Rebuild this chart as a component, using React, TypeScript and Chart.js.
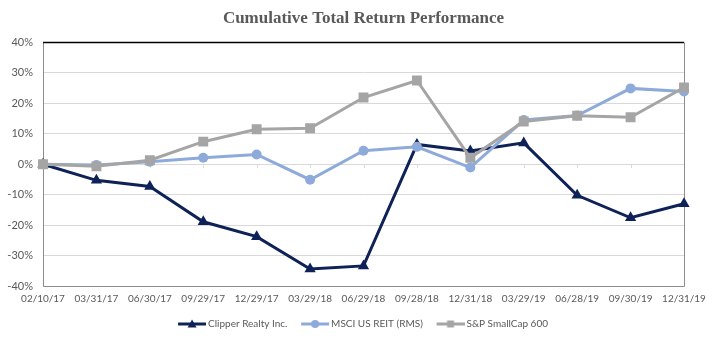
import React, { useEffect, useRef } from 'react';
import { Chart, registerables } from 'chart.js';

Chart.register(...registerables);

const categories = ['02/10/17', '03/31/17', '06/30/17', '09/29/17', '12/29/17', '03/29/18', '06/29/18', '09/28/18', '12/31/18', '03/29/19', '06/28/19', '09/30/19', '12/31/19'];
const clipperValues = [0, -5.3, -7.3, -18.9, -23.8, -34.4, -33.4, 6.5, 4.3, 7.0, -10.2, -17.6, -13.0];
const msciValues = [0, -0.3, 0.8, 2.1, 3.2, -5.1, 4.4, 5.7, -1.1, 14.5, 16.0, 24.9, 23.9];
const spValues = [0, -0.7, 1.3, 7.4, 11.5, 11.8, 21.9, 27.5, 2.1, 14.0, 15.9, 15.4, 25.2];
const seriesNames = ['Clipper Realty Inc.', 'MSCI US REIT (RMS)', 'S&P SmallCap 600'];
const yMin = -40;
const yMax = 40;
const yStep = 10;

const NAVY = '#0e2257';
const BLUE = '#8eaadb';
const GRAY = '#a5a5a5';
const TEXT = '#595959';

function makeIcon(color: string, kind: string): HTMLCanvasElement {
  const c = document.createElement('canvas');
  c.width = 30;
  c.height = 12;
  const ctx = c.getContext('2d')!;
  ctx.strokeStyle = color;
  ctx.fillStyle = color;
  ctx.lineWidth = 3;
  ctx.beginPath();
  ctx.moveTo(2, 6);
  ctx.lineTo(30, 6);
  ctx.stroke();
  ctx.beginPath();
  if (kind === 'triangle') {
    ctx.moveTo(16, 1.5);
    ctx.lineTo(20.5, 9.5);
    ctx.lineTo(11.5, 9.5);
    ctx.closePath();
  } else if (kind === 'circle') {
    ctx.arc(16, 6, 4, 0, Math.PI * 2);
  } else {
    ctx.rect(12.5, 2.5, 7, 7);
  }
  ctx.fill();
  return c;
}

const frame = {
  id: 'frame',
  beforeDatasetsDraw(chart: any) {
    const { ctx, chartArea: a, scales } = chart;
    const y0 = scales.y.getPixelForValue(0);
    ctx.save();
    ctx.strokeStyle = '#d9d9d9';
    ctx.lineWidth = 1;
    for (let i = 0; i < categories.length; i++) {
      const x = Math.round(scales.x.getPixelForValue(i)) + 0.5;
      ctx.beginPath();
      ctx.moveTo(x, y0);
      ctx.lineTo(x, y0 + 4);
      ctx.stroke();
    }
    ctx.strokeStyle = '#8c8c8c';
    ctx.lineWidth = 1;
    ctx.beginPath();
    ctx.moveTo(Math.round(a.left) + 0.5, a.top);
    ctx.lineTo(Math.round(a.left) + 0.5, Math.round(a.bottom) + 0.5);
    ctx.lineTo(Math.round(a.right) + 0.5, Math.round(a.bottom) + 0.5);
    ctx.lineTo(Math.round(a.right) + 0.5, a.top);
    ctx.stroke();
    ctx.strokeStyle = '#000000';
    ctx.lineWidth = 1.5;
    ctx.beginPath();
    ctx.moveTo(a.left, Math.round(a.top) + 0.5);
    ctx.lineTo(a.right, Math.round(a.top) + 0.5);
    ctx.stroke();
    ctx.restore();
  },
};

export default function App() {
  const ref = useRef<HTMLCanvasElement>(null);
  useEffect(() => {
    document.body.style.margin = '0';
    const icons = [makeIcon(NAVY, 'triangle'), makeIcon(BLUE, 'circle'), makeIcon(GRAY, 'rect')];
    const gap = '   ';
    const chart = new Chart(ref.current!, {
      type: 'line',
      data: {
        labels: categories,
        datasets: [
          {
            label: seriesNames[0],
            data: clipperValues,
            borderColor: NAVY,
            backgroundColor: NAVY,
            borderWidth: 3,
            pointStyle: 'triangle',
            pointRadius: 6.5,
            pointBorderWidth: 0,
            tension: 0,
            order: 3,
          },
          {
            label: seriesNames[1],
            data: msciValues,
            borderColor: BLUE,
            backgroundColor: BLUE,
            borderWidth: 3,
            pointStyle: 'circle',
            pointRadius: 5,
            pointBorderWidth: 0,
            tension: 0,
            order: 2,
          },
          {
            label: seriesNames[2],
            data: spValues,
            borderColor: GRAY,
            backgroundColor: GRAY,
            borderWidth: 3,
            pointStyle: 'rect',
            pointRadius: 7,
            pointBorderWidth: 0,
            tension: 0,
            order: 1,
          },
        ],
      },
      options: {
        animation: false,
        responsive: false,
        layout: { padding: { left: 0, right: 33, top: 0, bottom: 4 } },
        scales: {
          x: {
            type: 'category',
            offset: false,
            grid: { display: false, drawTicks: false },
            border: { display: false },
            ticks: {
              color: TEXT,
              font: { family: 'Lato', size: 10 },
              padding: 7,
              maxRotation: 0,
              autoSkip: false,
            },
          },
          y: {
            min: yMin,
            max: yMax,
            afterFit: (s: any) => {
              s.width = 43;
            },
            grid: { color: '#d9d9d9', drawTicks: false, lineWidth: 1 },
            border: { display: false },
            ticks: {
              stepSize: yStep,
              color: TEXT,
              font: { family: 'Lato', size: 11 },
              padding: 10,
              callback: (v: any) => v + '%',
            },
          },
        },
        plugins: {
          title: {
            display: true,
            text: 'Cumulative Total Return Performance',
            color: TEXT,
            fullSize: false,
            font: { family: 'Liberation Serif', size: 17, weight: 'bold' },
            padding: { top: 8, bottom: 14 },
          },
          legend: {
            position: 'bottom',
            fullSize: false,
            labels: {
              usePointStyle: true,
              pointStyleWidth: 24,
              padding: 7,
              color: TEXT,
              font: { family: 'Lato', size: 10 },
              generateLabels: () =>
                seriesNames.map((n, i) => ({
                  text: i < seriesNames.length - 1 ? n + gap : n,
                  datasetIndex: i,
                  pointStyle: icons[i],
                  fillStyle: 'transparent',
                  strokeStyle: 'transparent',
                  lineWidth: 0,
                  fontColor: TEXT,
                  hidden: false,
                })),
            },
          },
          tooltip: { enabled: false },
        },
      },
      plugins: [frame],
    });
    return () => chart.destroy();
  }, []);
  return <canvas ref={ref} width={717} height={343} style={{ display: 'block' }} />;
}
